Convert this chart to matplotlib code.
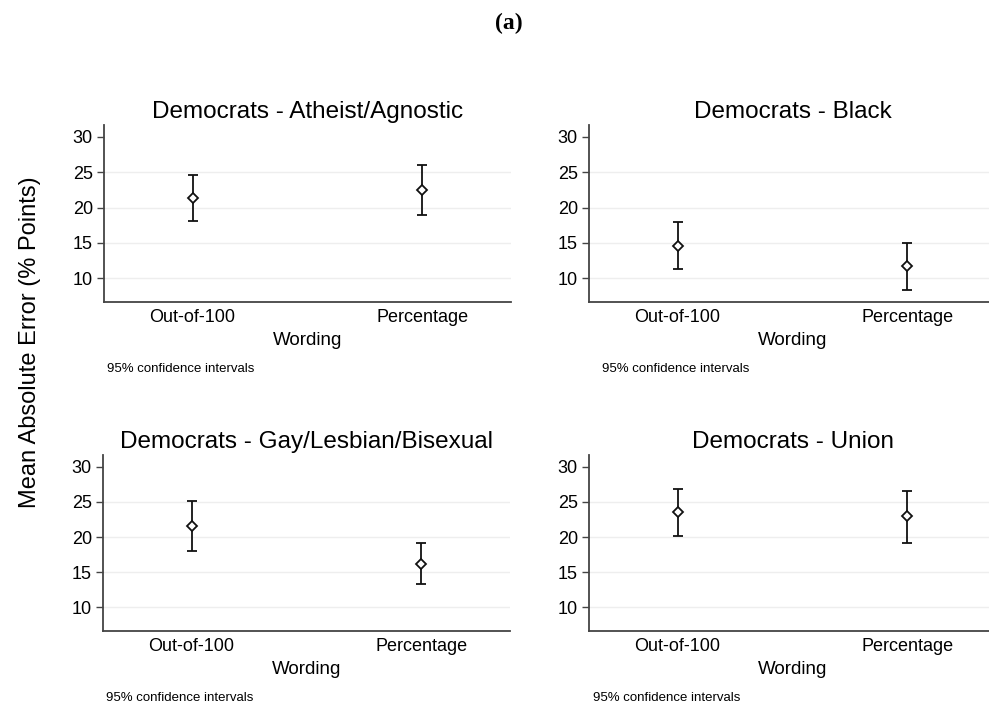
import numpy as np
import matplotlib
matplotlib.use('Agg')
import matplotlib.pyplot as plt

plt.rcParams['font.family'] = ['Liberation Sans', 'DejaVu Sans']

# mean absolute error with 95% CI, by question wording
wordings = ['Out-of-100', 'Percentage']
groups = ['Atheist/Agnostic', 'Black', 'Gay/Lesbian/Bisexual', 'Union']
means = [
    [21.36, 22.45],
    [14.58, 11.64],
    [21.55, 16.22],
    [23.50, 22.94],
]
lower = [
    [18.12, 18.87],
    [11.27, 8.36],
    [18.03, 13.27],
    [20.10, 19.20],
]
upper = [
    [24.62, 26.04],
    [17.98, 14.90],
    [25.10, 19.20],
    [26.86, 26.58],
]
yticks = [10, 15, 20, 25, 30]

fig = plt.figure(figsize=(9.89, 7.11), dpi=100)

W, H = 989.0, 711.0
# panel boxes in pixels: left, top, right, bottom
boxes = [
    (104, 125, 511, 302),
    (589, 125, 996, 302),
    (103, 455, 510, 631),
    (589, 455, 996, 631),
]
note_x = [107, 602, 106, 593]

x = np.array([1, 2])
for i, g in enumerate(groups):
    l, t, r, b = boxes[i]
    ax = fig.add_axes([l / W, 1 - b / H, (r - l) / W, (b - t) / H])
    m = np.array(means[i])
    lo = m - np.array(lower[i])
    hi = np.array(upper[i]) - m
    for yv in yticks[:-1]:
        ax.axhline(yv, color='#eeeeee', lw=1.0, zorder=0)
    ax.errorbar(x, m, yerr=[lo, hi], fmt='none', ecolor='#111111',
                elinewidth=1.3, capsize=3.3, capthick=1.3, zorder=2)
    ax.plot(x, m, ls='none', marker='D', ms=5, mfc='white', mec='#111111',
            mew=1.3, zorder=3)
    ax.set_xlim(0.615, 2.385)
    ax.set_ylim(6.6, 31.7)
    ax.set_yticks(yticks)
    ax.set_xticks(x)
    ax.set_xticklabels(wordings)
    ax.tick_params(axis='x', length=0, pad=5, labelsize=13)
    ax.tick_params(axis='y', length=5, width=1, color='#444444', pad=3,
                   labelsize=13)
    for s in ['top', 'right']:
        ax.spines[s].set_visible(False)
    for s in ['left', 'bottom']:
        ax.spines[s].set_color('#444444')
        ax.spines[s].set_linewidth(1.3)
    ax.set_title('Democrats - ' + g, fontsize=17.5, pad=5)
    ax.set_xlabel('Wording', fontsize=13.5, labelpad=4)
    fig.text(note_x[i] / W, 1 - (b + 67) / H, '95% confidence intervals',
             fontsize=9.5, va='center', ha='left')

fig.text(30 / W, 1 - 342 / H, 'Mean Absolute Error (% Points)', rotation=90,
         fontsize=17, va='center', ha='center')
fig.text(509 / W, 1 - 23 / H, '(a)', fontsize=17, fontweight='bold',
         family='Liberation Serif', ha='center', va='center')

fig.savefig('out.png', dpi=100)
